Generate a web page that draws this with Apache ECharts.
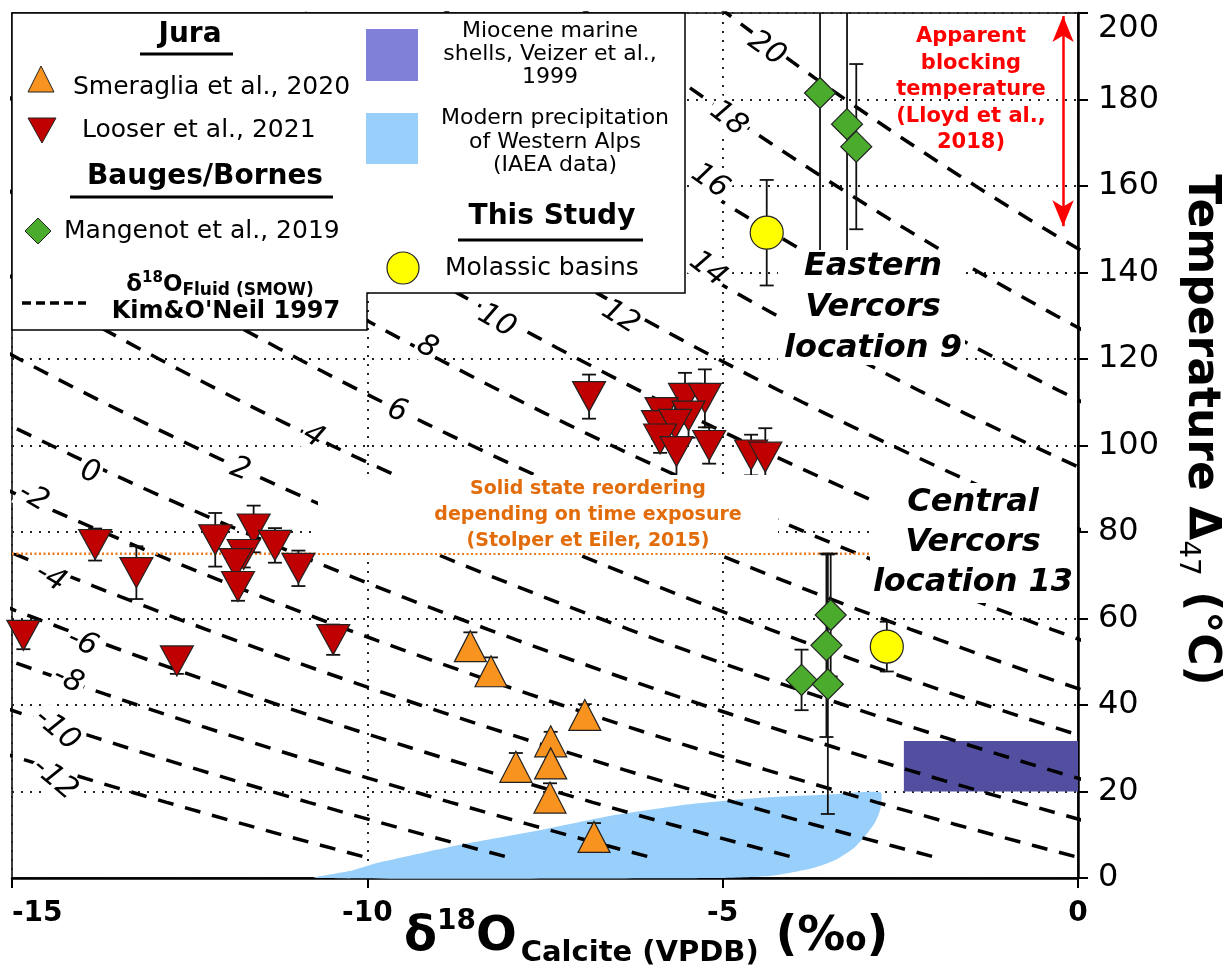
<!DOCTYPE html>
<html>
<head>
<meta charset="utf-8">
<script src="https://cdn.jsdelivr.net/npm/echarts@6/dist/echarts.min.js"></script>
<style>
html, body { margin: 0; padding: 0; background: #fff; }
#chart { width: 1232px; height: 971px; }
</style>
</head>
<body>
<div id="chart"></div>
<script>
// Jura - Smeraglia et al., 2020
var smeragliaX = [-8.55, -8.26, -6.94, -7.42, -7.42, -7.91, -7.43, -6.81];
var smeragliaT = [53.6, 47.8, 37.7, 31.6, 26.5, 25.7, 18.6, 9.5];
var smeragliaErr = [3.2, 3.2, 2.5, 2.2, 2.0, 3.2, 3.3, 3.2];

// Jura - Looser et al., 2021
var looserX = [-14.84, -13.83, -13.25, -12.68, -12.14, -11.60, -11.30, -10.97, -11.74, -11.85, -11.82, -10.48,
  -6.88, -5.53, -5.25, -5.86, -5.48, -5.91, -5.67, -5.88, -5.65, -5.19, -4.60, -4.40];
var looserT = [56.1, 77.1, 70.6, 50.2, 78.2, 80.7, 76.9, 71.6, 74.8, 72.7, 67.4, 55.1,
  111.3, 110.9, 110.9, 107.6, 106.8, 104.6, 104.9, 101.5, 98.6, 100.0, 97.8, 97.3];
var looserErr = [3.2, 3.7, 6.1, 3.0, 6.2, 5.4, 4.0, 4.1, 3.0, 3.0, 3.3, 3.5,
  5.1, 5.9, 6.7, 3.4, 5.0, 3.0, 5.0, 3.2, 7.3, 4.2, 4.7, 6.7];

// Bauges/Bornes - Mangenot et al., 2019
var mangenotX = [-3.63, -3.25, -3.12, -3.48, -3.54, -3.89, -3.52];
var mangenotT = [181.5, 174.3, 169.1, 60.8, 53.8, 45.8, 44.8];
var mangenotErr = [37, 40, 19.1, 14.2, 21.2, 7.0, 30];

// This study - molassic basins
var molasseX = [-4.38, -2.69];
var molasseT = [149.2, 53.5];
var molasseErr = [12.2, 5.75];

// Kim & O'Neil 1997 fluid isolines (d18O fluid, SMOW)
var fluidValues = [-12, -10, -8, -6, -4, -2, 0, 2, 4, 6, 8, 10, 12, 14, 16, 18, 20];

// Miocene marine shells (Veizer et al., 1999)
var mioceneX = [-2.45, 0];
var mioceneT = [20, 31.7];

// Modern precipitation of Western Alps (IAEA) - outline
var precipX = [-10.75, -10.2, -9.88, -9.2, -8.5, -7.5, -6.5, -5.5, -4.5, -3.5, -2.78, -2.78, -2.85, -2.98, -3.15, -3.4, -3.73, -4.31, -5.0];
var precipT = [0, 1.8, 3.4, 5.9, 8.3, 11.3, 14.6, 17.0, 18.5, 19.3, 19.8, 16, 13, 10, 7, 4.3, 2.3, 0.5, 0];

// axes
var xTicks = [-15, -10, -5, 0];
var yTicks = [0, 20, 40, 60, 80, 100, 120, 140, 160, 180, 200];

// isoline label anchors and rotations (layout)
var isoLabelX = [-14.40, -14.37, -14.21, -14.01, -14.46, -14.70, -13.90, -11.79, -10.76, -9.58, -9.16, -8.18, -6.44, -5.21, -5.18, -4.92, -4.38];
var isoLabelT = [22.9, 34.3, 45.8, 54.4, 69.4, 88, 93.7, 94.4, 102.1, 107.9, 122.7, 128.7, 129.6, 140.7, 161.1, 175.5, 191.7];
var isoLabelRot = [40, 40, 25, 25, 30, 30, 15, 20, 30, 18, 28, 30, 32, 38, 35, 38, 35];

// Kim & O'Neil (1997): 1000 ln a = 18.03 (1e3/T) - 32.42, then SMOW -> VPDB
function calciteVPDB(w, tC) {
  var alpha = Math.exp((18.03e3 / (tC + 273.15) - 32.42) / 1000);
  var smow = (1000 + w) * alpha - 1000;
  return 0.97001 * smow - 29.99;
}

var chart = echarts.init(document.getElementById('chart'));

function errorBars(xs, ts, errs) {
  return {
    type: 'custom', silent: true, clip: true, z: 3,
    data: xs.map(function (x, i) { return [x, ts[i], errs[i]]; }),
    encode: { x: 0, y: 1 },
    renderItem: function (params, api) {
      var x = api.value(0), t = api.value(1), e = api.value(2);
      var hi = api.coord([x, t + e]);
      var lo = api.coord([x, t - e]);
      var st = { stroke: '#111', lineWidth: 1.8 };
      return {
        type: 'group',
        children: [
          { type: 'line', shape: { x1: hi[0], y1: hi[1], x2: lo[0], y2: lo[1] }, style: st },
          { type: 'line', shape: { x1: hi[0] - 7, y1: hi[1], x2: hi[0] + 7, y2: hi[1] }, style: st },
          { type: 'line', shape: { x1: lo[0] - 7, y1: lo[1], x2: lo[0] + 7, y2: lo[1] }, style: st }
        ]
      };
    }
  };
}

function points(xs, ts) {
  return xs.map(function (x, i) { return [x, ts[i]]; });
}

var series = [];

// precipitation field
series.push({
  type: 'custom', silent: true, z: 1,
  data: [[precipX[0], precipT[0]]],
  encode: { x: 0, y: 1 },
  renderItem: function (params, api) {
    var pts = precipX.map(function (x, i) { return api.coord([x, precipT[i]]); });
    return { type: 'polygon', shape: { points: pts, smooth: 0.2 }, style: { fill: '#99d0fb' } };
  }
});

// miocene box
series.push({
  type: 'custom', silent: true, z: 1,
  data: [[mioceneX[0], mioceneT[0], mioceneX[1], mioceneT[1]]],
  encode: { x: [0, 2], y: [1, 3] },
  renderItem: function (params, api) {
    var p0 = api.coord([api.value(0), api.value(3)]);
    var p1 = api.coord([api.value(2), api.value(1)]);
    return { type: 'rect', shape: { x: p0[0], y: p0[1], width: p1[0] - p0[0], height: p1[1] - p0[1] }, style: { fill: '#534fa0' } };
  }
});

// isolines
var isoT = [];
for (var t = 5; t <= 320; t += 2.5) isoT.push(t);
fluidValues.forEach(function (w) {
  series.push({
    type: 'line', silent: true, z: 2, symbol: 'none', clip: true,
    data: isoT.map(function (tc) { return [calciteVPDB(w, tc), tc]; }),
    lineStyle: { color: '#000', width: 3.5, type: [16, 12] }
  });
});

// solid state reordering line
series.push({
  type: 'line', silent: true, z: 2, symbol: 'none',
  data: [[-15, 75], [0, 75]],
  lineStyle: { color: '#ec7a1c', width: 2.5, type: [2, 2.5] }
});

// blocking temperature arrow
series.push({
  type: 'line', silent: true, z: 2, symbol: 'none', data: [],
  markLine: {
    silent: true, symbol: ['arrow', 'arrow'], symbolSize: [16, 26],
    label: { show: false },
    lineStyle: { color: '#ff0000', width: 2.5, type: 'solid' },
    data: [[{ coord: [-0.21, 199.3] }, { coord: [-0.21, 150.7] }]]
  }
});

// markers
var border = { borderColor: '#222', borderWidth: 1.2 };
series.push(errorBars(smeragliaX, smeragliaT, smeragliaErr));
series.push({
  type: 'scatter', z: 4, symbol: 'triangle', symbolSize: [32, 31],
  data: points(smeragliaX, smeragliaT),
  itemStyle: Object.assign({ color: '#f7931e', opacity: 1 }, border)
});
series.push(errorBars(looserX, looserT, looserErr));
series.push({
  type: 'scatter', z: 4, symbol: 'triangle', symbolRotate: 180, symbolSize: [33, 30],
  data: points(looserX, looserT),
  itemStyle: Object.assign({ color: '#c00000', opacity: 1 }, border)
});
series.push(errorBars(mangenotX, mangenotT, mangenotErr));
series.push({
  type: 'scatter', z: 4, symbol: 'diamond', symbolSize: [31, 31],
  data: points(mangenotX, mangenotT),
  itemStyle: Object.assign({ color: '#4aab2c', opacity: 1 }, border)
});
series.push(errorBars(molasseX, molasseT, molasseErr));
series.push({
  type: 'scatter', z: 4, symbol: 'circle', symbolSize: 33,
  data: points(molasseX, molasseT),
  itemStyle: Object.assign({ color: '#ffff00', opacity: 1 }, border)
});

// isoline labels (inline, white background)
series.push({
  type: 'custom', silent: true, z: 5,
  data: fluidValues.map(function (w, i) { return [isoLabelX[i], isoLabelT[i], w, isoLabelRot[i]]; }),
  encode: { x: 0, y: 1 },
  renderItem: function (params, api) {
    var p = api.coord([api.value(0), api.value(1)]);
    return {
      type: 'text', x: p[0], y: p[1], rotation: -api.value(3) * Math.PI / 180,
      style: {
        text: String(api.value(2)), font: 'italic 30px "DejaVu Sans"', fill: '#000',
        textAlign: 'center', textVerticalAlign: 'middle',
        backgroundColor: '#fff', padding: [0, 2]
      }
    };
  }
});

function txt(x, y, text, font, align, extra) {
  return Object.assign({
    type: 'text', z: 100, silent: true,
    style: { x: x, y: y, text: text, font: font, fill: '#000', textAlign: align || 'left', textVerticalAlign: 'middle' }
  }, extra || {});
}
function rect(x, y, w, h, fill) {
  return { type: 'rect', z: 100, silent: true, shape: { x: x, y: y, width: w, height: h }, style: { fill: fill } };
}
function hline(x1, x2, y, width, dash) {
  return { type: 'line', z: 100, silent: true, shape: { x1: x1, y1: y, x2: x2, y2: y }, style: { stroke: '#000', lineWidth: width, lineDash: dash || null } };
}

var reg = '25px "DejaVu Sans"';
var small = '22px "DejaVu Sans"';
var head = 'bold 28px "DejaVu Sans"';

var graphics = [
  // annotation boxes
  rect(318, 475, 460, 78, '#fff'),
  { type: 'text', z: 100, silent: true, style: { x: 588, y: 515, text: 'Solid state reordering\ndepending on time exposure\n(Stolper et Eiler, 2015)', font: 'bold 19px "DejaVu Sans"', fill: '#e36c0a', textAlign: 'center', textVerticalAlign: 'middle', lineHeight: 26 } },
  rect(778, 250, 187, 115, '#fff'),
  { type: 'text', z: 100, silent: true, style: { x: 873, y: 308, text: 'Eastern\nVercors\nlocation 9', font: 'italic bold 32px "DejaVu Sans"', fill: '#000', textAlign: 'center', textVerticalAlign: 'middle', lineHeight: 41 } },
  rect(870, 483, 207, 120, '#fff'),
  { type: 'text', z: 100, silent: true, style: { x: 973, y: 543, text: 'Central\nVercors\nlocation 13', font: 'italic bold 32px "DejaVu Sans"', fill: '#000', textAlign: 'center', textVerticalAlign: 'middle', lineHeight: 40 } },
  { type: 'text', z: 100, silent: true, style: { x: 971, y: 90, text: 'Apparent\nblocking\ntemperature\n(Lloyd et al.,\n2018)', font: 'bold 21px "DejaVu Sans"', fill: '#ff0000', textAlign: 'center', textVerticalAlign: 'middle', lineHeight: 26.5 } },

  // legend frame
  { type: 'polygon', z: 100, silent: true, shape: { points: [[12, 13], [685, 13], [685, 293], [367, 293], [367, 330], [12, 330]] }, style: { fill: '#fff', stroke: '#000', lineWidth: 1.5 } },
  txt(190, 35, 'Jura', head, 'center'),
  hline(140, 233, 54, 3),
  { type: 'polygon', z: 100, silent: true, shape: { points: [[41, 66], [54, 92], [28, 92]] }, style: { fill: '#f7931e', stroke: '#222', lineWidth: 1 } },
  txt(73, 87, 'Smeraglia et al., 2020', reg),
  { type: 'polygon', z: 100, silent: true, shape: { points: [[28, 118], [56, 118], [42, 143]] }, style: { fill: '#c00000', stroke: '#222', lineWidth: 1 } },
  txt(82, 130, 'Looser et al., 2021', reg),
  txt(205, 177, 'Bauges/Bornes', head, 'center'),
  hline(70, 333, 197, 3),
  { type: 'polygon', z: 100, silent: true, shape: { points: [[38, 218], [51, 231], [38, 244], [25, 231]] }, style: { fill: '#4aab2c', stroke: '#222', lineWidth: 1 } },
  txt(64, 231, 'Mangenot et al., 2019', reg),
  hline(22, 86, 303, 3.5, [9, 5]),
  { type: 'text', z: 100, silent: true, style: { x: 220, y: 285, textAlign: 'center', textVerticalAlign: 'middle',
    text: '{m|δ}{sup|18}{m|O}{sub|Fluid (SMOW)}',
    rich: {
      m: { fontFamily: 'DejaVu Sans', fontWeight: 'bold', fontSize: 23, lineHeight: 28 },
      sup: { fontFamily: 'DejaVu Sans', fontWeight: 'bold', fontSize: 15, lineHeight: 15, verticalAlign: 'top' },
      sub: { fontFamily: 'DejaVu Sans', fontWeight: 'bold', fontSize: 17, lineHeight: 17, verticalAlign: 'bottom' }
    } } },
  txt(226, 312, "Kim&O'Neil 1997", 'bold 24px "DejaVu Sans"', 'center'),

  rect(366, 29, 52, 52, '#8080d8'),
  { type: 'text', z: 100, silent: true, style: { x: 550, y: 54, text: 'Miocene marine\nshells, Veizer et al.,\n1999', font: small, fill: '#000', textAlign: 'center', textVerticalAlign: 'middle', lineHeight: 23 } },
  rect(366, 113, 52, 51, '#99d0fb'),
  { type: 'text', z: 100, silent: true, style: { x: 555, y: 142, text: 'Modern precipitation\nof Western Alps\n(IAEA data)', font: small, fill: '#000', textAlign: 'center', textVerticalAlign: 'middle', lineHeight: 23.5 } },
  txt(552, 217, 'This Study', head, 'center'),
  hline(458, 643, 240, 3),
  { type: 'circle', z: 100, silent: true, shape: { cx: 403, cy: 268, r: 16 }, style: { fill: '#ffff00', stroke: '#222', lineWidth: 1.2 } },
  txt(445, 268, 'Molassic basins', reg),

  // axis titles
  { type: 'text', z: 100, silent: true, style: { x: 404, y: 938, textAlign: 'left', textVerticalAlign: 'middle',
    text: '{b|δ}{sup|18}{b|O}{sub|Calcite (VPDB)}{p| (‰)}',
    rich: {
      b: { fontFamily: 'DejaVu Sans', fontWeight: 'bold', fontSize: 48, lineHeight: 60 },
      sup: { fontFamily: 'DejaVu Sans', fontWeight: 'bold', fontSize: 28, lineHeight: 30, verticalAlign: 'top' },
      sub: { fontFamily: 'DejaVu Sans', fontWeight: 'bold', fontSize: 29, lineHeight: 26, verticalAlign: 'bottom', padding: [0, 0, 0, 4] },
      p: { fontFamily: 'DejaVu Sans', fontWeight: 'bold', fontSize: 48, lineHeight: 60 }
    } } },
  { type: 'text', z: 100, silent: true, x: 1200, y: 430, rotation: -Math.PI / 2,
    style: { x: 0, y: 0, textAlign: 'center', textVerticalAlign: 'middle',
      text: '{b|Temperature Δ}{s|47}{b| (°C)}',
      rich: {
        b: { fontFamily: 'DejaVu Sans', fontWeight: 'bold', fontSize: 44, lineHeight: 54 },
        s: { fontFamily: 'DejaVu Sans', fontSize: 28, lineHeight: 28, verticalAlign: 'bottom' }
      } } }
];

chart.setOption({
  animation: false,
  backgroundColor: '#fff',
  grid: { left: 12, right: 154, top: 13, bottom: 93, show: true, borderColor: '#000', borderWidth: 1.5 },
  xAxis: {
    type: 'value', min: xTicks[0], max: xTicks[xTicks.length - 1], interval: 5,
    axisLine: { lineStyle: { color: '#000', width: 2.5 } },
    axisTick: { length: 10, lineStyle: { color: '#000', width: 2 } },
    axisLabel: { color: '#000', fontFamily: 'DejaVu Sans', fontWeight: 'bold', fontSize: 28, margin: 22, alignMinLabel: 'left' },
    splitLine: { show: true, lineStyle: { color: '#222', width: 2, type: [2, 7] } }
  },
  yAxis: {
    type: 'value', position: 'right', min: yTicks[0], max: yTicks[yTicks.length - 1], interval: 20,
    axisLine: { show: true, lineStyle: { color: '#000', width: 2.5 } },
    axisTick: { show: true, length: 10, lineStyle: { color: '#000', width: 2 } },
    axisLabel: { color: '#000', fontFamily: 'DejaVu Sans', fontSize: 32, margin: 20, verticalAlignMaxLabel: 'top' },
    splitLine: { show: true, lineStyle: { color: '#222', width: 2, type: [2, 7] } }
  },
  graphic: graphics,
  series: series
});
</script>
</body>
</html>
